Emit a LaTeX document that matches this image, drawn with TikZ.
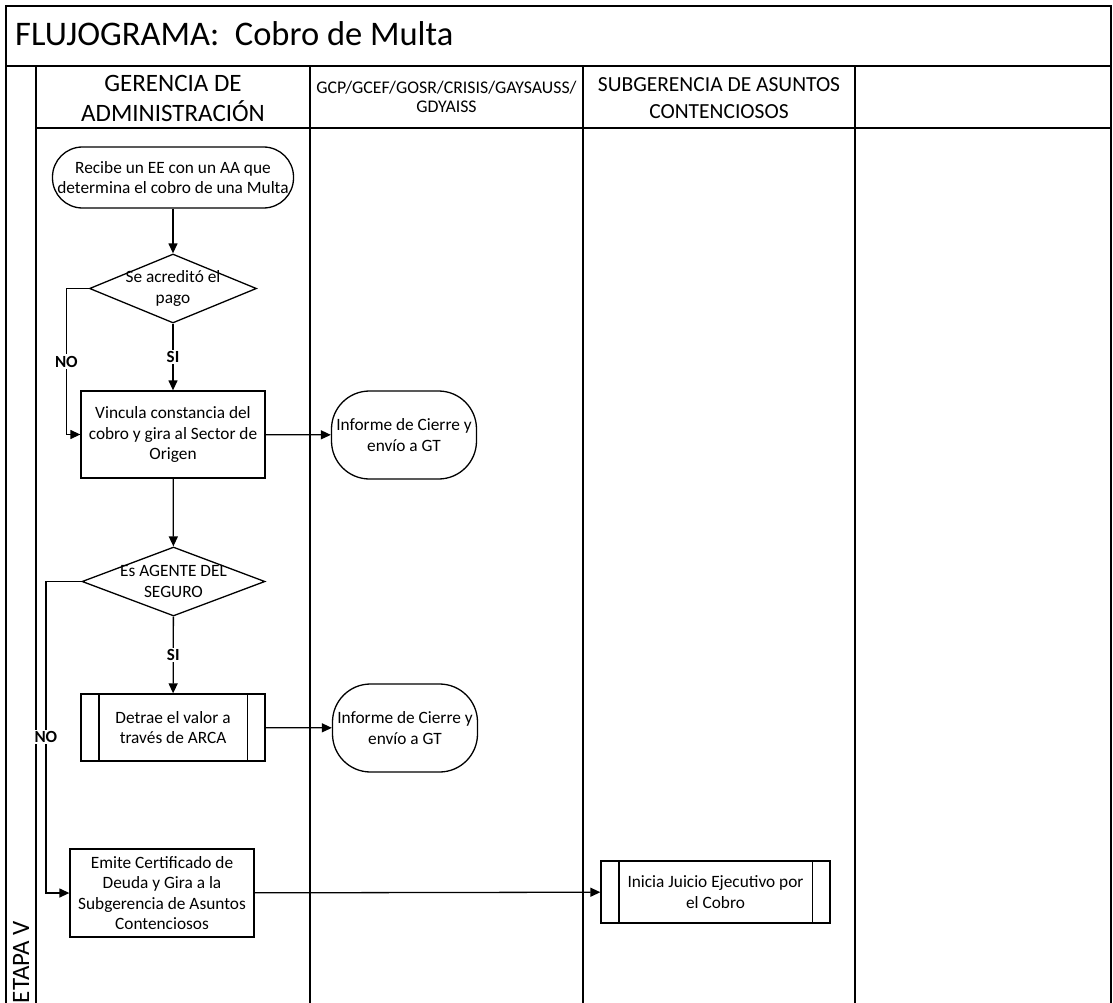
\documentclass[tikz,border=0pt]{standalone}
\usepackage{fontspec}
\setmainfont{Carlito}
\usetikzlibrary{shapes.geometric,arrows.meta}

\begin{document}
\begin{tikzpicture}[x=1pt,y=-1pt,font=\fontsize{17.3}{20.5}\selectfont]

\tikzstyle{frame}=[line width=1.8pt]
\tikzstyle{terminal}=[rectangle,draw,line width=1.3pt,rounded corners=30pt,minimum width=241pt,minimum height=61pt,inner sep=0pt,align=center]
\tikzstyle{terminal2}=[rectangle,draw,line width=1.3pt,rounded corners=38pt,minimum width=145pt,minimum height=88pt,inner sep=0pt,align=center]
\tikzstyle{decision}=[diamond,draw,line width=1.3pt,inner sep=0pt,minimum height=69pt]
\tikzstyle{process}=[rectangle,draw,line width=1.3pt,minimum width=184pt,inner sep=0pt,align=center]
\tikzstyle{subproc}=[rectangle,draw,line width=1.3pt,inner sep=0pt,align=center]
\tikzstyle{flow}=[line width=1.3pt,-{Triangle[length=10pt,width=9pt]}]
\tikzstyle{answer}=[fill=white,inner sep=1.5pt,font=\fontsize{17}{20}\selectfont\bfseries]

\useasboundingbox (0,0) rectangle (1113,1003);

% frame and swimlanes
\draw[frame] (6,1003) -- (6,6) -- (1111,6) -- (1111,1003);
\draw[frame] (6,66) -- (1111,66);
\draw[frame] (36,66) -- (36,1003);
\draw[frame] (36,128) -- (1111,128);
\draw[frame] (310,66) -- (310,1003);
\draw[frame] (583,66) -- (583,1003);
\draw[frame] (855,66) -- (855,1003);

\node[anchor=base west,inner sep=0pt,font=\fontsize{34.5}{40}\selectfont] (title) at (15,46) {FLUJOGRAMA:\ \ Cobro de Multa};
\node[rotate=90,anchor=base,font=\fontsize{25}{30}\selectfont] (etapa) at (29,962) {ETAPA V};
\node[align=center,font=\fontsize{25}{30}\selectfont] (gerencia) at (173,98) {GERENCIA DE\\ADMINISTRACIÓN};
\node[align=center,font=\fontsize{17.8}{19.5}\selectfont] (gcp) at (446.5,97) {GCP/GCEF/GOSR/CRISIS/GAYSAUSS/\\GDYAISS};
\node[align=center,font=\fontsize{21.5}{27}\selectfont] (subger) at (719,98.5) {SUBGERENCIA DE ASUNTOS\\CONTENCIOSOS};

% flow
\node[terminal] (recibe) at (173,177.5) {Recibe un EE con un AA que\\determina el cobro de una Multa};
\node[decision,minimum width=167pt,label={[align=center]center:Se acreditó el\\pago}] (pago) at (173,288.5) {};
\node[process,minimum height=87pt] (vincula) at (173,434.5) {Vincula constancia del\\cobro y gira al Sector de\\Origen};
\node[terminal2] (cierre1) at (404,435) {Informe de Cierre y\\envío a GT};
\node[decision,minimum width=183pt,label={[align=center]center:Es AGENTE DEL\\SEGURO}] (agente) at (173.5,581.5) {};
\node[subproc,minimum width=184pt,minimum height=67pt] (detrae) at (173,727.5) {Detrae el valor a\\través de ARCA};
\node[terminal2] (cierre2) at (405,728) {Informe de Cierre y\\envío a GT};
\node[process,minimum height=88pt] (emite) at (162,893) {Emite Certificado de\\Deuda y Gira a la\\Subgerencia de Asuntos\\Contenciosos};
\node[subproc,minimum width=229pt,minimum height=62pt] (inicia) at (715.5,892) {Inicia Juicio Ejecutivo por\\el Cobro};

\draw[line width=1.3pt] ([xshift=18.5pt]detrae.north west) -- ([xshift=18.5pt]detrae.south west);
\draw[line width=1.3pt] ([xshift=-18.5pt]detrae.north east) -- ([xshift=-18.5pt]detrae.south east);
\draw[line width=1.3pt] ([xshift=18.5pt]inicia.north west) -- ([xshift=18.5pt]inicia.south west);
\draw[line width=1.3pt] ([xshift=-18.5pt]inicia.north east) -- ([xshift=-18.5pt]inicia.south east);

\draw[flow] (recibe) -- (pago);
\draw[flow] (pago) -- node[answer] {SI} (vincula);
\draw[flow] (pago.west) -- ++(-22.5,0) |- node[answer,pos=0.25] {NO} (vincula.west);
\draw[flow] (vincula) -- (cierre1);
\draw[flow] (vincula) -- (agente);
\draw[flow] (agente) -- node[answer] {SI} (detrae);
\draw[flow] (agente.west) -- ++(-35.5,0) |- node[answer,pos=0.25] {NO} (emite.west);
\draw[flow] (detrae) -- (cierre2);
\draw[flow] (emite) -- (inicia);
\end{tikzpicture}
\end{document}
